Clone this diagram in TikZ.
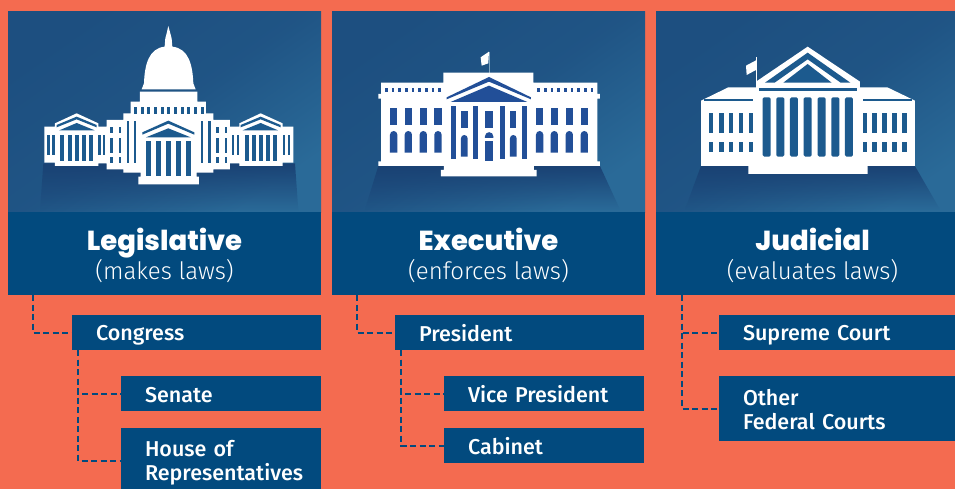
\documentclass[tikz,border=0pt]{standalone}
\usepackage{fontspec}
\usepackage{tikz}
\usetikzlibrary{positioning,fadings}
\newfontfamily\headfont{Poppins ExtraBold}
\newfontfamily\subfont{Fira Sans Light}
\newfontfamily\boxfont{Fira Sans Medium}
\definecolor{coral}{HTML}{F46B50}
\definecolor{navy}{HTML}{024A7E}
\definecolor{panela}{HTML}{1D4F80}
\definecolor{panelb}{HTML}{2A6A98}
\definecolor{shadow}{HTML}{1A4274}
\definecolor{capdark}{HTML}{1C5A8E}
\definecolor{whdark}{HTML}{224F98}
\tikzset{
  panel/.style = {rectangle, anchor=north west, outer sep=0pt, inner sep=0pt, minimum height=200pt, minimum width=313pt,
                  shade, shading=axis, top color=panela, bottom color=panelb, middle color=panela!80!panelb, shading angle=35},
  title/.style = {rectangle, fill=navy, text=white, align=center, outer sep=0pt, inner sep=0pt, minimum height=83pt,
                  minimum width=313pt, font=\fontsize{22}{29}\selectfont},
  entry/.style = {rectangle, fill=navy, text=white, anchor=north west, align=left, outer sep=0pt, inner xsep=24pt,
                  inner ysep=0pt, minimum height=35pt, minimum width=#1, text width=#1-48pt,
                  font=\boxfont\fontsize{21.5}{24}\selectfont,
                  execute at begin node={\rule{0pt}{20pt}}, execute at end node={\rule[-2.6pt]{0pt}{2.6pt}}},
  link/.style  = {draw=navy, dash pattern=on 6pt off 3.5pt, line width=2pt},
  fall/.style  = {fill=shadow, path fading=south},
}
\newcommand{\branch}[2]{\rule{0pt}{30pt}{\headfont\fontsize{27.5}{29}\selectfont #1}\\{\subfont\fontsize{24}{29}\selectfont #2}\rule[-8pt]{0pt}{8pt}}
\begin{document}
\begin{tikzpicture}[x=1pt,y=-1pt]
\useasboundingbox (0,0) rectangle (955,489);
\clip (0,0) rectangle (955,489);
\fill[coral] (0,0) rectangle (955,489);

% picture panels
\node [panel] (legpic) at (8,12) {};
\node [panel, right = 11pt of legpic.north east, anchor=north west] (exepic) {};
\node [panel, right = 11pt of exepic.north east, anchor=north west] (judpic) {};

% titles
\node [title, below = 0pt of legpic] (leg) {\branch{Legislative}{(makes laws)}};
\node [title, below = 0pt of exepic] (exe) {\branch{Executive}{(enforces laws)}};
\node [title, below = 0pt of judpic] (jud) {\branch{Judicial}{(evaluates laws)}};

% entries
\node [entry=249pt] (congress) at (72,315) {Congress};
\node [entry=200pt] (senate) at (121,376) {Senate};
\node [entry=200pt, minimum height=65pt] (house) at (121,428) {House of\\Representatives};
\node [entry=249pt] (president) at (395,315) {President};
\node [entry=200pt] (vice) at (444,376) {Vice President};
\node [entry=200pt] (cabinet) at (444,428) {Cabinet};
\node [entry=249pt] (supreme) at (719,315) {Supreme Court};
\node [entry=249pt, minimum height=65pt] (federal) at (719,376) {Other\\Federal Courts};

\draw [link] ([xshift=25pt]leg.south west) |- (congress.west);
\draw [link] ([xshift=6pt]congress.south west) |- (senate.west);
\draw [link] ([xshift=6pt]congress.south west) |- (house.west);
\draw [link] ([xshift=25pt]exe.south west) |- (president.west);
\draw [link] ([xshift=6pt]president.south west) |- (vice.west);
\draw [link] ([xshift=6pt]president.south west) |- (cabinet.west);
\draw [link] ([xshift=26pt]jud.south west) |- (supreme.west);
\draw [link] ([xshift=26pt]jud.south west) |- (federal.west);

% capitol
\begin{scope}[x=0.3333pt,y=-0.3333pt]
\fill[fall] (130,490) -- (885,490) -- (895,632) -- (120,632) -- cycle;
\fill[white] (505,78) -- (511,100) -- (515,115) -- (517,140) .. controls (566,145) and (578,195) .. (580,250) -- (587,268)
  -- (425,268) -- (432,250) .. controls (434,195) and (446,145) .. (494,140) -- (496,115) -- (500,100) -- cycle;
\fill[white] (420,275) -- (592,275) -- (592,305) -- (618,305) -- (618,340) -- (640,340) -- (640,360) -- (690,360) -- (690,380) -- (718,380)
  -- (718,370) -- (782,340) -- (848,370) -- (848,380) -- (880,380) -- (880,488) -- (848,488) -- (848,498) -- (718,498) -- (718,490) -- (690,490) -- (690,508) -- (640,508) -- (640,518) -- (590,518) -- (590,530) -- (597,530) -- (597,553) -- (415,553) -- (415,530) -- (422,530) -- (422,518) -- (370,518) -- (370,508) -- (320,508) -- (320,490) -- (295,490) -- (295,498) -- (165,498) -- (165,488) -- (133,488) -- (133,380) -- (165,380) -- (165,370) -- (230,340) -- (295,370) -- (295,380) -- (320,380) -- (320,360) -- (370,360) -- (370,340) -- (392,340) -- (392,305) -- (420,305) -- cycle;
\foreach \x in {402,422,...,602} \fill[capdark] (\x,320) rectangle ++(9,22);
\fill[capdark] (427,397) -- (505,362) -- (583,397) -- (583,404) -- (505,371) -- (427,404) -- cycle;
\fill[capdark] (438,412) -- (505,385) -- (572,412) -- cycle;
\foreach \x in {437,467,497,527,557} \fill[capdark] (\x,423) rectangle ++(16,105);
\foreach \m/\s in {0/1,1012/-1} {
  \begin{scope}[xshift=\m*0.3333pt,x=\s*0.3333pt]
  \foreach \x in {380,402} \fill[capdark] (\x,363) rectangle ++(7,127);
  \foreach \x in {331,356} {
    \fill[capdark] (\x,380) rectangle ++(7,20);
    \fill[capdark] (\x,413) rectangle ++(7,47);
    \fill[capdark] (\x,472) rectangle ++(7,18);
  }
  \foreach \x in {180,203,224,245,266} \fill[capdark] (\x,405) rectangle ++(12,77);
  \foreach \x in {142,157,295,309} \fill[capdark] (\x,405) rectangle ++(7,60);
  \fill[capdark] (170,375) -- (230,350) -- (290,375) -- (290,382) -- (230,358) -- (170,382) -- cycle;
  \fill[capdark] (178,391) -- (230,369) -- (284,391) -- cycle;
  \end{scope}
}
\end{scope}

% white house
\begin{scope}[shift={(330,0)},x=0.3333pt,y=-0.3333pt]
\fill[fall] (145,498) -- (810,498) -- (870,628) -- (105,628) -- cycle;
\draw[panelb!60!white,line width=0.8pt] (477,155) -- (477,218);
\fill[white] (452,172) -- (477,155) -- (475,190) -- (455,197) -- cycle;
\fill[white] (340,218) -- (610,218) -- (610,248) -- (802,248) -- (802,282) -- (810,282) -- (810,296) -- (802,296) -- (802,484) -- (810,484) -- (810,498) -- (612,498) -- (612,510) -- (620,510) -- (620,529) -- (333,529) -- (333,510) -- (342,510) -- (342,498) -- (145,498) -- (145,484) -- (153,484) -- (153,296) -- (145,296) -- (145,282) -- (153,282) -- (153,248) -- (340,248) -- cycle;
\foreach \x in {165,185,...,325} \fill[whdark] (\x,263) rectangle ++(8,13);
\foreach \x in {622,642,...,782} \fill[whdark] (\x,263) rectangle ++(8,13);
\fill[whdark] (350,292) -- (477,231) -- (603,292) -- (603,298) -- (477,245) -- (350,298) -- cycle;
\fill[whdark] (362,306) -- (477,257) -- (592,306) -- cycle;
\foreach \x in {180,224,269,313,618,662,707,752} {
  \fill[whdark] (\x,325) rectangle ++(22,51);
  \fill[whdark] (\x,458) -- (\x,404) arc[start angle=180,end angle=360,radius=11] -- ++(0,54) -- cycle;
}
\foreach \x in {363,430,509,575} \fill[whdark] (\x,318) rectangle ++(15,160);
\fill[whdark] (394,332) rectangle ++(19,52);
\fill[whdark] (465,332) rectangle ++(25,52);
\fill[whdark] (540,332) rectangle ++(19,52);
\foreach \x in {393,540} \fill[whdark] (\x,470) -- (\x,415) arc[start angle=180,end angle=360,radius=10] -- ++(0,55) -- cycle;
\fill[whdark] (465,423) rectangle (490,482);
\fill[whdark] (465,414) -- (465,409) arc[start angle=180,end angle=360,radius=12.5] -- ++(0,5) -- cycle;
\end{scope}

% court
\begin{scope}[shift={(650,0)},x=0.3333pt,y=-0.3333pt]
\fill[fall] (153,498) -- (795,498) -- (870,628) -- (105,628) -- cycle;
\draw[white,line width=0.8pt] (319,172) -- (319,262);
\fill[white] (288,197) -- (320,180) -- (318,210) -- (290,225) -- cycle;
\fill[white] (473,140) -- (630,245) -- (630,262) -- (712,262) -- (795,302) -- (795,498) -- (653,498) -- (653,522) -- (295,522) -- (295,498) -- (153,498) -- (153,302) -- (235,262) -- (318,262) -- (318,245) -- cycle;
\fill[capdark] (345,248) -- (473,158) -- (601,248) -- (572,248) -- (473,178) -- (374,248) -- cycle;
\fill[capdark] (400,248) -- (473,192) -- (545,248) -- cycle;
\fill[capdark] (328,263) rectangle (620,273);
\foreach \x in {338,379,420,461,503,544,585} \fill[capdark, rounded corners=1.5pt] (\x,292) rectangle ++(24,178);
\fill[capdark] (163,297) rectangle (310,303);
\fill[capdark] (638,297) rectangle (785,303);
\foreach \x in {176,207,236,266,296,638,667,697,727,757} {
  \fill[capdark] (\x,340) rectangle ++(14,58);
  \fill[capdark] (\x,427) rectangle ++(14,29);
}
\end{scope}
\end{tikzpicture}
\end{document}
